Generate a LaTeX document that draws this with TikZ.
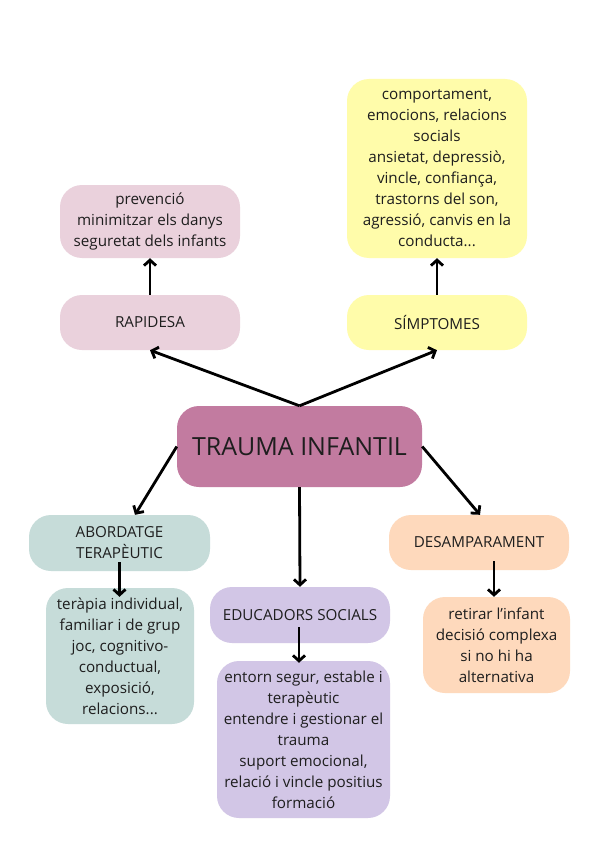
\documentclass[tikz,border=0pt]{standalone}
\usepackage{fontspec}
\setmainfont{Open Sans}
\usetikzlibrary{arrows.meta,calc}
\definecolor{cpink}{HTML}{EAD1DC}
\definecolor{cyel}{HTML}{FFFCAA}
\definecolor{cteal}{HTML}{C6DCD9}
\definecolor{corange}{HTML}{FED9BC}
\definecolor{cpurple}{HTML}{D2C6E6}
\definecolor{ctrauma}{HTML}{C27BA0}
\definecolor{ctext}{HTML}{1E1E1E}
\tikzset{
  box/.style={rectangle, rounded corners=22pt, inner sep=0pt, align=center,
    text=ctext, font=\fontsize{15.2}{21}\selectfont},
  conn/.style={draw=black, line width=2.8pt,
    -{Straight Barb[length=5.5pt,width=12pt,line width=2.8pt]}},
}
\begin{document}
\begin{tikzpicture}[x=1pt,y=-1pt]
\useasboundingbox[fill=white] (0,0) rectangle (600,848);
% nodes
\node[box, fill=cpink, minimum width=180pt, minimum height=73pt] (rapdet) at (150,221.5)
  {prevenció\\minimitzar els danys\\seguretat dels infants};
\node[box, fill=cpink, minimum width=180pt, minimum height=55pt] (rap) at (150,322.5)
  {RAPIDESA};
\node[box, fill=cyel, minimum width=180pt, minimum height=179pt] (simdet) at (437,168.5)
  {comportament,\\emocions, relacions\\socials\\ansietat, depressiò,\\vincle, confiança,\\trastorns del son,\\agressió, canvis en la\\conducta...};
\node[box, fill=cyel, minimum width=180pt, minimum height=55pt] (sim) at (437,322.5)
  {SÍMPTOMES};
\node[box, fill=ctrauma, minimum width=245pt, minimum height=81pt, font=\fontsize{25}{30}\selectfont] (trauma) at (299.5,446.5)
  {TRAUMA INFANTIL};
\node[box, fill=cteal, minimum width=181pt, minimum height=56pt] (abo) at (119.5,543)
  {ABORDATGE\\TERAPÈUTIC};
\node[box, fill=cteal, minimum width=148pt, minimum height=136pt] (abodet) at (120,656)
  {teràpia individual,\\familiar i de grup\\joc, cognitivo-\\conductual,\\exposició,\\relacions...};
\node[box, fill=cpurple, minimum width=180pt, minimum height=56pt] (edu) at (300,615)
  {EDUCADORS SOCIALS};
\node[box, fill=cpurple, minimum width=173pt, minimum height=157pt] (edudet) at (303.5,739.5)
  {entorn segur, estable i\\terapèutic\\entendre i gestionar el\\trauma\\suport emocional,\\relació i vincle positius\\formació};
\node[box, fill=corange, minimum width=180pt, minimum height=55pt] (des) at (479,542.5)
  {DESAMPARAMENT};
\node[box, fill=corange, minimum width=147pt, minimum height=96pt] (desdet) at (496.5,645)
  {retirar l’infant\\decisió complexa\\si no hi ha\\alternativa};
% connectors
\draw[conn] (trauma.north) -- (rap.south);
\draw[conn] (trauma.north) -- (sim.south);
\draw[conn] (rap.north) -- (rapdet.south);
\draw[conn] (sim.north) -- (simdet.south);
\draw[conn] (trauma.west) -- ([xshift=15.5pt]abo.north);
\draw[conn] (trauma.east) -- ([xshift=1pt]des.north);
\draw[conn] (trauma.south) -- (edu.north);
\draw[conn] ([yshift=9pt]abo.south) -- ([xshift=-0.5pt,yshift=-9pt]abodet.north);
\draw[conn] ([xshift=-1pt,yshift=16pt]edu.south) -- ([xshift=-4.5pt,yshift=-2pt]edudet.north);
\draw[conn] ([xshift=15pt,yshift=9pt]des.south) -- ([xshift=-2.5pt]desdet.north);
\end{tikzpicture}
\end{document}
